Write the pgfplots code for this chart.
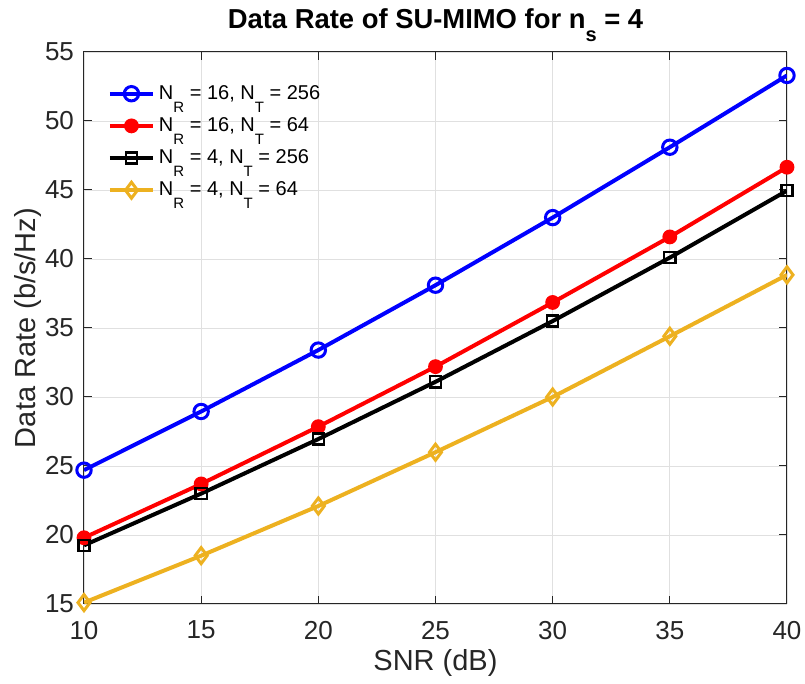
\documentclass[border=0pt]{standalone}
\usepackage{pgfplots}
\pgfplotsset{compat=1.18}
\usepackage{fontspec}
\setmainfont{Liberation Sans}
\definecolor{myyellow}{rgb}{0.929,0.694,0.125}
\definecolor{axgray}{rgb}{0.15,0.15,0.15}
\newcommand\sub[1]{\raisebox{-6.5pt}[0pt][0pt]{\fontsize{7.5}{7.5}\selectfont #1}}
\begin{document}
\begin{tikzpicture}
\path[use as bounding box] (-42pt,-40pt) rectangle (360.5pt,302pt);
\begin{axis}[
  at={(0,0)}, anchor=south west,
  scale only axis, width=351.5pt, height=276pt,
  xmin=10, xmax=40, ymin=15, ymax=55,
  xtick={10,15,...,40}, ytick={15,20,...,55},
  grid=major,
  major grid style={draw=black!12, line width=0.4pt},
  axis line style={draw=axgray, line width=0.5pt},
  tick style={draw=axgray, line width=0.5pt},
  tick align=inside,
  major tick length=4pt,
  /pgf/number format/assume math mode=true,
  ticklabel style={font=\fontsize{13}{15}\selectfont, text=axgray},
  xticklabel style={yshift=-5pt},
  yticklabel style={xshift=-1.5pt},
  xlabel={SNR (dB)}, ylabel={Data Rate (b/s/Hz)},
  label style={font=\fontsize{14.5}{17}\selectfont, text=axgray},
  xlabel style={yshift=2pt},
  ylabel style={yshift=-5pt},
  title={\textbf{Data Rate of SU-MIMO for n\raisebox{-6.5pt}[0pt][0pt]{\fontsize{10}{10}\selectfont s} = 4}},
  title style={font=\fontsize{13.7}{15}\selectfont, yshift=2pt},
  legend style={draw=none, fill=none, at={(0.025,0.955)}, anchor=north west,
    font=\fontsize{10}{12}\selectfont, row sep=3.6pt},
  legend cell align=left,
  legend image code/.code={\draw[mark repeat=2,mark phase=2] plot coordinates {(0pt,0pt) (10.75pt,0pt) (21.5pt,0pt)};},
  every axis plot/.append style={line width=2pt},
]
\addplot[color=blue, mark=o, mark size=3.6pt, mark options={line width=1.5pt}] coordinates {
(10,24.7) (15,28.95) (20,33.4) (25,38.1) (30,43.0) (35,48.1) (40,53.3)};
\addlegendentry{N\sub{R} = 16, N\sub{T} = 256}
\addplot[color=red, mark=*, mark size=3.2pt, mark options={line width=1pt}] coordinates {
(10,19.8) (15,23.7) (20,27.85) (25,32.2) (30,36.85) (35,41.6) (40,46.65)};
\addlegendentry{N\sub{R} = 16, N\sub{T} = 64}
\addplot[color=black, mark=square, mark size=2.8pt, mark options={line width=1.2pt}] coordinates {
(10,19.25) (15,23.0) (20,26.95) (25,31.1) (30,35.5) (35,40.1) (40,44.95)};
\addlegendentry{N\sub{R} = 4, N\sub{T} = 256}
\addplot[color=myyellow, mark=diamond, mark size=4pt, mark options={line width=1.5pt}] coordinates {
(10,15.1) (15,18.5) (20,22.1) (25,26.0) (30,30.0) (35,34.4) (40,38.85)};
\addlegendentry{N\sub{R} = 4, N\sub{T} = 64}
\end{axis}
\end{tikzpicture}
\end{document}
